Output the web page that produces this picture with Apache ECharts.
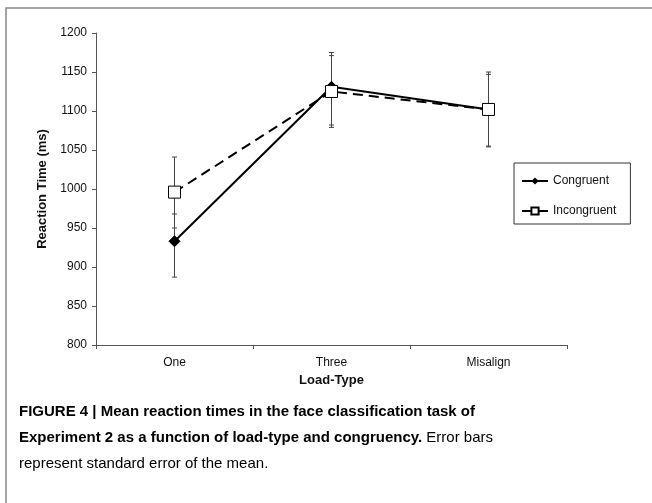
<!DOCTYPE html>
<html>
<head>
<meta charset="utf-8">
<script src="https://cdn.jsdelivr.net/npm/echarts@6/dist/echarts.min.js"></script>
<style>
html,body{margin:0;padding:0;background:#fff;}
#c{width:652px;height:503px;}
</style>
</head>
<body>
<div id="c"></div>
<script>
const categories = ['One', 'Three', 'Misalign'];
const congruent = [933, 1131, 1102];
const congruentLow = [887, 1082, 1055];
const congruentHigh = [968, 1175, 1150];
const incongruent = [996, 1125, 1102];
const incongruentLow = [950, 1079, 1054];
const incongruentHigh = [1041, 1171, 1147];
const yTicks = [800, 850, 900, 950, 1000, 1050, 1100, 1150, 1200];

const chart = echarts.init(document.getElementById('c'));
const FONT = 'Liberation Sans, Arial, sans-serif';

function errorSeries(name, low, high) {
  return {
    type: 'custom',
    name: name + ' error',
    z: 1,
    silent: true,
    data: categories.map((c, i) => [i, low[i], high[i]]),
    encode: { x: 0, y: [1, 2] },
    renderItem: function (params, api) {
      const x = api.value(0);
      const lo = api.coord([x, api.value(1)]);
      const hi = api.coord([x, api.value(2)]);
      const cw = 2.5;
      const st = { stroke: '#444', lineWidth: 1 };
      return {
        type: 'group',
        children: [
          { type: 'line', shape: { x1: lo[0], y1: lo[1], x2: hi[0], y2: hi[1] }, style: st },
          { type: 'line', shape: { x1: lo[0] - cw, y1: lo[1], x2: lo[0] + cw, y2: lo[1] }, style: st },
          { type: 'line', shape: { x1: hi[0] - cw, y1: hi[1], x2: hi[0] + cw, y2: hi[1] }, style: st }
        ]
      };
    }
  };
}

const option = {
  animation: false,
  backgroundColor: '#fff',
  textStyle: { fontFamily: FONT },
  grid: { left: 96, right: 85, top: 33, bottom: 158 },
  legend: {
    orient: 'vertical',
    left: 514,
    top: 163,
    padding: [12, 14, 7, 7],
    itemGap: 18,
    itemWidth: 26,
    itemHeight: 9,
    borderColor: '#333',
    borderWidth: 1,
    textStyle: { fontFamily: FONT, fontSize: 12, color: '#111' },
    data: ['Congruent', 'Incongruent']
  },
  xAxis: {
    type: 'category',
    data: categories,
    boundaryGap: true,
    name: 'Load-Type',
    nameLocation: 'middle',
    nameGap: 28,
    nameTextStyle: { fontFamily: FONT, fontSize: 13, fontWeight: 'bold', color: '#111' },
    axisLine: { lineStyle: { color: '#555', width: 1 } },
    axisTick: { show: true, length: 4, lineStyle: { color: '#555' } },
    axisLabel: { fontFamily: FONT, fontSize: 12, color: '#111', margin: 12 },
    splitLine: { show: false }
  },
  yAxis: {
    type: 'value',
    min: yTicks[0],
    max: yTicks[yTicks.length - 1],
    interval: 50,
    name: 'Reaction Time (ms)',
    nameLocation: 'middle',
    nameGap: 45,
    nameTextStyle: { fontFamily: FONT, fontSize: 13, fontWeight: 'bold', color: '#111' },
    axisLine: { show: true, lineStyle: { color: '#555', width: 1 } },
    axisTick: { show: true, length: 4, lineStyle: { color: '#555' } },
    axisLabel: { fontFamily: FONT, fontSize: 12, color: '#111', margin: 9, formatter: v => String(v) },
    splitLine: { show: false }
  },
  series: [
    errorSeries('Congruent', congruentLow, congruentHigh),
    errorSeries('Incongruent', incongruentLow, incongruentHigh),
    {
      name: 'Congruent',
      type: 'line',
      z: 3,
      data: congruent,
      symbol: 'diamond',
      symbolSize: 11,
      lineStyle: { color: '#000', width: 2, type: 'solid' },
      itemStyle: { color: '#000', borderColor: '#000' }
    },
    {
      name: 'Incongruent',
      type: 'line',
      z: 4,
      data: incongruent,
      symbol: 'rect',
      symbolSize: 12,
      lineStyle: { color: '#000', width: 2, type: [10, 6] },
      itemStyle: { color: '#fff', borderColor: '#000', borderWidth: 1 }
    }
  ],
  graphic: [
    {
      type: 'rect',
      shape: { x: 6, y: 8, width: 700, height: 600 },
      style: { fill: 'none', stroke: '#888', lineWidth: 1.5 },
      silent: true
    },
    {
      type: 'text',
      x: 19,
      y: 399,
      style: {
        text: '{b|FIGURE 4 | Mean reaction times in the face classification task of}\n{b|Experiment 2 as a function of load-type and congruency.}{n| Error bars}\n{n|represent standard error of the mean.}',
        fontFamily: FONT,
        lineHeight: 26,
        rich: {
          b: { fontFamily: FONT, fontSize: 15, fontWeight: 'bold', color: '#1a1a1a', lineHeight: 26 },
          n: { fontFamily: FONT, fontSize: 15, color: '#333', lineHeight: 26 }
        }
      }
    }
  ]
};
chart.setOption(option);
</script>
</body>
</html>
